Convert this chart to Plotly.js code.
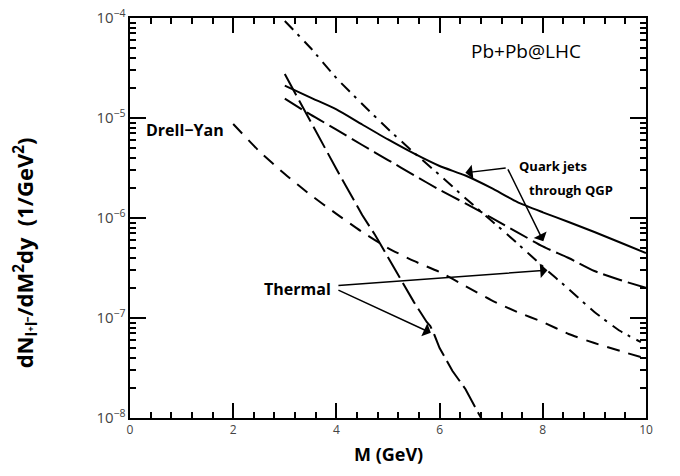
<!DOCTYPE html>
<html>
<head>
<meta charset="utf-8">
<script src="https://cdn.plot.ly/plotly-3.0.1.min.js"></script>
<style>
html,body{margin:0;padding:0;background:#fff;}
#chart{width:680px;height:476px;}
</style>
</head>
<body>
<div id="chart"></div>
<script>
// Quark jets through QGP (solid)
const jetSolidM = [3, 3.5, 4, 4.5, 5, 5.5, 6, 6.5, 7, 7.5, 8, 8.5, 9, 9.5, 10];
const jetSolidY = [2.11e-5, 1.60e-5, 1.22e-5, 8.61e-6, 6.10e-6, 4.42e-6, 3.31e-6, 2.66e-6, 2.00e-6, 1.45e-6, 1.14e-6, 9.12e-7, 7.24e-7, 5.69e-7, 4.47e-7];
// Quark jets through QGP (long dash)
const jetDashM = [3, 3.5, 4, 4.5, 5, 5.5, 6, 6.5, 7, 7.5, 8, 8.5, 9, 9.5, 10];
const jetDashY = [1.56e-5, 1.08e-5, 7.67e-6, 5.37e-6, 3.80e-6, 2.69e-6, 1.91e-6, 1.40e-6, 1.01e-6, 7.24e-7, 5.19e-7, 3.98e-7, 2.95e-7, 2.40e-7, 2.00e-7];
// Thermal (dash-dot)
const thermDotM = [3, 3.5, 4, 4.5, 5, 5.5, 6, 6.5, 7, 7.5, 8, 8.5, 9, 9.5, 9.9];
const thermDotY = [9.33e-5, 5.01e-5, 2.51e-5, 1.38e-5, 7.76e-6, 4.52e-6, 2.69e-6, 1.58e-6, 9.44e-7, 5.62e-7, 3.27e-7, 1.95e-7, 1.15e-7, 7.41e-8, 5.75e-8];
// Thermal (steep long dash)
const thermSteepM = [3.0, 3.25, 3.5, 3.75, 4.0, 4.25, 4.5, 4.75, 5.0, 5.25, 5.5, 5.75, 5.82, 5.9, 6.0, 6.25, 6.5, 6.75, 6.85];
const thermSteepY = [2.75e-5, 1.58e-5, 9.12e-6, 5.25e-6, 3.09e-6, 1.82e-6, 1.07e-6, 6.76e-7, 4.07e-7, 2.40e-7, 1.45e-7, 9.12e-8, 8.32e-8, 6.76e-8, 5.01e-8, 2.95e-8, 1.95e-8, 1.12e-8, 9.12e-9];
// Drell-Yan (short dash)
const dyM = [2, 2.5, 3, 3.5, 4, 4.5, 5, 5.5, 6, 6.5, 7, 7.5, 8, 8.5, 9, 9.5, 9.9];
const dyY = [8.71e-6, 4.68e-6, 2.75e-6, 1.70e-6, 1.10e-6, 7.24e-7, 5.01e-7, 3.72e-7, 2.88e-7, 2.09e-7, 1.51e-7, 1.15e-7, 9.12e-8, 6.92e-8, 5.62e-8, 4.68e-8, 4.07e-8];

const ln = (dash) => ({color: '#000', width: 2, dash: dash, shape: 'spline', smoothing: 0.6});

const traces = [
  {x: jetSolidM, y: jetSolidY, mode: 'lines', line: ln('solid'), name: 'jets solid'},
  {x: jetDashM, y: jetDashY, mode: 'lines', line: ln('20px,6px'), name: 'jets dash'},
  {x: thermDotM, y: thermDotY, mode: 'lines', line: ln('12px,6px,3px,7px'), name: 'thermal dot'},
  {x: thermSteepM, y: thermSteepY, mode: 'lines', line: {color: '#000', width: 2, dash: '24px,6px'}, name: 'thermal steep'},
  {x: dyM, y: dyY, mode: 'lines', line: ln('13px,9px'), name: 'Drell-Yan'}
];

const arrow = (x, y, ax, ay) => ({
  x: x, y: y, ax: ax, ay: ay, xref: 'x', yref: 'y', axref: 'x', ayref: 'y',
  text: '', showarrow: true, arrowhead: 1, arrowsize: 1.6, arrowwidth: 1.5, arrowcolor: '#000'
});
const txt = (x, y, s, size, ref) => ({
  x: x, y: y, xref: ref || 'x', yref: ref || 'y', text: s, showarrow: false,
  font: {size: size, color: '#000'}
});

const layout = {
  width: 680, height: 476,
  margin: {l: 130, r: 34, t: 18, b: 58},
  showlegend: false,
  xaxis: {
    range: [0, 10], tick0: 0, dtick: 2,
    ticks: 'inside', ticklen: 15, tickwidth: 2, tickcolor: '#000',
    showline: true, linewidth: 2, linecolor: '#000', mirror: 'allticks',
    showgrid: false, zeroline: false,
    minor: {dtick: 0.4, tick0: 0, ticks: 'inside', ticklen: 6, tickwidth: 1.5, tickcolor: '#000', showgrid: false}
  },
  yaxis: {
    type: 'log', range: [-8, -4], dtick: 1, exponentformat: 'power',
    ticks: 'inside', ticklen: 16, tickwidth: 2, tickcolor: '#000',
    showline: true, linewidth: 2, linecolor: '#000', mirror: 'allticks',
    showgrid: false, zeroline: false,
    minor: {ticks: 'inside', ticklen: 6, tickwidth: 1.5, tickcolor: '#000', showgrid: false}
  },
  annotations: [
    Object.assign(txt(-0.2036, 0.414, '<b>dN<sub>l⁺l⁻</sub>/dM<sup>2</sup>dy  (1/GeV<sup>2</sup>)</b>', 22, 'paper'),
      {textangle: -90, xanchor: 'center', yanchor: 'middle'}),
    Object.assign(txt(0.5, -0.091, '<b>M (GeV)</b>', 18, 'paper'), {xanchor: 'center', yanchor: 'middle'}),
    txt(7.67, -4.332, 'Pb+Pb@LHC', 19),
    txt(1.07, -5.115, '<b>Drell−Yan</b>', 16),
    txt(3.24, -6.708, '<b>Thermal</b>', 16),
    txt(8.19, -5.475, '<b>Quark jets</b>', 13),
    txt(8.55, -5.715, '<b>through QGP</b>', 13),
    arrow(6.50, -5.548, 7.31, -5.498),
    arrow(8.01, -6.232, 7.31, -5.498),
    arrow(8.09, -6.522, 4.01, -6.675),
    arrow(5.83, -7.148, 4.01, -6.715)
  ]
};

Plotly.newPlot('chart', traces, layout, {displayModeBar: false});
</script>
</body>
</html>
